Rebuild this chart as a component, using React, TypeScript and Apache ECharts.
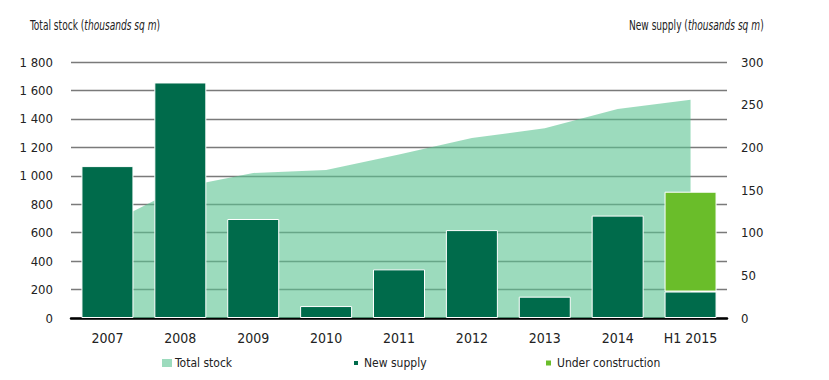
import React, { useEffect, useRef } from "react";
import * as echarts from "echarts";

const categories = ["2007", "2008", "2009", "2010", "2011", "2012", "2013", "2014", "H1 2015"];
const totalStock = [660, 918, 1020, 1040, 1150, 1265, 1335, 1469, 1535];
const newSupply = [178, 276, 116, 14, 57, 103, 25, 120, 31];
const underConstruction = [null, null, null, null, null, null, null, null, 117];
const leftTicks = { min: 0, max: 1800, interval: 200 };
const rightTicks = { min: 0, max: 300, interval: 50 };

const FONT = "'Liberation Sans Narrow', 'DejaVu Sans Condensed', 'Open Sans', sans-serif";

export default function App() {
  const ref = useRef<HTMLDivElement>(null);
  useEffect(() => {
    if (!ref.current) return;
    const chart = echarts.init(ref.current, undefined, { renderer: "svg" });
    const fmt = (v: number) => {
      const s = String(v);
      return s.length > 3 ? s.slice(0, s.length - 3) + " " + s.slice(-3) : s;
    };
    const titleRich = {
      a: { fontFamily: FONT, fontSize: 14, fill: "#222" },
      b: { fontFamily: FONT, fontSize: 14, fontStyle: "italic", fill: "#222" },
    };
    const legendText = { fontFamily: FONT, fontSize: 12, color: "#222" };
    chart.setOption({
      animation: false,
      backgroundColor: "#ffffff",
      textStyle: { fontFamily: FONT },
      grid: { left: 71, right: 102, top: 62, bottom: 62 },
      graphic: [
        {
          type: "text",
          x: 30,
          y: 25,
          scaleX: 0.72,
          style: {
            text: "{a|Total stock (}{b|thousands sq m}{a|)}",
            verticalAlign: "middle",
            rich: titleRich,
          },
        },
        {
          type: "text",
          x: 629,
          y: 25,
          scaleX: 0.72,
          style: {
            text: "{a|New supply (}{b|thousands sq m}{a|)}",
            verticalAlign: "middle",
            rich: titleRich,
          },
        },
      ],
      legend: [
        {
          data: ["Total stock"],
          left: 162,
          top: 357,
          padding: 0,
          icon: "rect",
          itemWidth: 10,
          itemHeight: 8,
          textStyle: { ...legendText, padding: [0, 0, 0, -2] },
        },
        {
          data: ["New supply"],
          left: 352,
          top: 357,
          padding: 0,
          icon: "rect",
          itemWidth: 6,
          itemHeight: 6,
          textStyle: { ...legendText, padding: [0, 0, 0, 0] },
        },
        {
          data: ["Under construction"],
          left: 544,
          top: 357,
          padding: 0,
          icon: "rect",
          itemWidth: 7,
          itemHeight: 7,
          textStyle: { ...legendText, padding: [0, 0, 0, 0] },
        },
      ],
      xAxis: {
        type: "category",
        data: categories,
        boundaryGap: true,
        axisLine: { lineStyle: { color: "#000", width: 2.5 } },
        axisTick: { show: false },
        axisLabel: { color: "#222", fontSize: 14, margin: 13, fontFamily: FONT },
      },
      yAxis: [
        {
          type: "value",
          ...leftTicks,
          axisLine: { show: false },
          axisTick: { show: false },
          axisLabel: { color: "#222", fontSize: 13, margin: 18, fontFamily: FONT, formatter: fmt },
          splitLine: { lineStyle: { color: "#7a7a7a", width: 1.3 } },
        },
        {
          type: "value",
          ...rightTicks,
          position: "right",
          axisLine: { show: false },
          axisTick: { show: false },
          axisLabel: { color: "#222", fontSize: 13, margin: 14, fontFamily: FONT },
          splitLine: { show: false },
        },
      ],
      series: [
        {
          name: "Total stock",
          type: "line",
          yAxisIndex: 0,
          data: totalStock,
          symbol: "none",
          lineStyle: { width: 0 },
          itemStyle: { color: "#9cdbbd" },
          areaStyle: { color: "rgb(90,195,145)", opacity: 0.6 },
          z: 1,
        },
        {
          name: "New supply",
          type: "bar",
          yAxisIndex: 1,
          stack: "s",
          data: newSupply,
          barWidth: 52,
          itemStyle: { color: "#006b4b", borderColor: "#ffffff", borderWidth: 1 },
          z: 3,
        },
        {
          name: "Under construction",
          type: "bar",
          yAxisIndex: 1,
          stack: "s",
          data: underConstruction,
          barWidth: 52,
          itemStyle: { color: "#6abd2a", borderColor: "#ffffff", borderWidth: 1 },
          z: 3,
        },
      ],
    });
    return () => chart.dispose();
  }, []);
  return <div ref={ref} style={{ width: 829, height: 380, position: "absolute", left: 0, top: 0 }} />;
}
